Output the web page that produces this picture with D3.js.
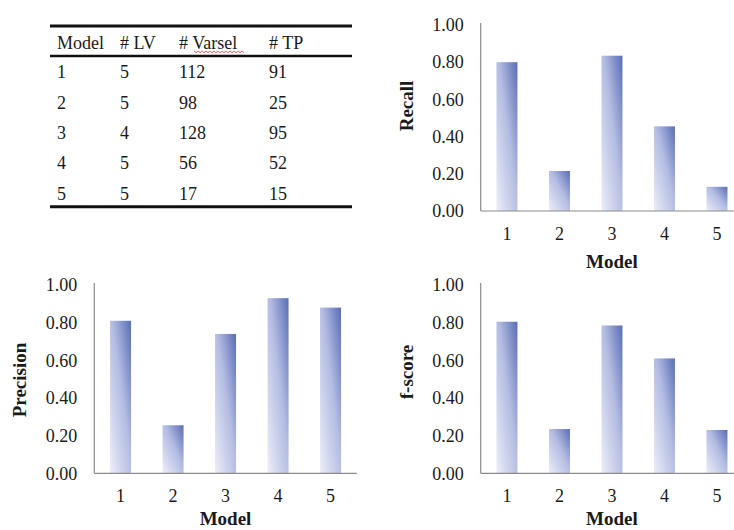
<!DOCTYPE html>
<html>
<head>
<meta charset="utf-8">
<script src="https://cdn.jsdelivr.net/npm/d3@7"></script>
<style>
  html, body { margin: 0; padding: 0; background: #fff; }
  svg { display: block; font-family: "Liberation Serif", "Times New Roman", serif; }
</style>
</head>
<body>
<svg id="fig" width="734" height="530"></svg>
<script>
// Model summary table
const models = ["1", "2", "3", "4", "5"];
const tableHeader = ["Model", "# LV", "# Varsel", "# TP"];
const numLV = [5, 5, 4, 5, 5];
const numVarsel = [112, 98, 128, 56, 17];
const numTP = [91, 25, 95, 52, 15];

// Scores per model
const recall = [0.80, 0.215, 0.835, 0.455, 0.13];
const precision = [0.81, 0.255, 0.74, 0.93, 0.88];
const fscore = [0.805, 0.235, 0.785, 0.61, 0.23];

const yTicks = [0, 0.2, 0.4, 0.6, 0.8, 1.0];

const svg = d3.select("#fig");
const textColor = "#1a1a1a";
const axisColor = "#8c8c8c";

// Shared bar fill: pale lower-left to deep blue upper-right
const defs = svg.append("defs");
const grad = defs.append("linearGradient")
  .attr("id", "barFill")
  .attr("x1", 0).attr("y1", 1).attr("x2", 1).attr("y2", 0);
grad.append("stop").attr("offset", "0%").attr("stop-color", "#eceef8");
grad.append("stop").attr("offset", "55%").attr("stop-color", "#b3bce2");
grad.append("stop").attr("offset", "100%").attr("stop-color", "#5a6db5");

// ---- Table ----
const table = svg.append("g");
const colX = [57, 120, 179, 269];
const headerBase = 49;
const rowBase = [78, 108.5, 139, 169.3, 199.5];
const tableX0 = 50, tableX1 = 352;

[[26, 3], [56, 2.6], [206.7, 3]].forEach(([y, w]) => {
  table.append("line")
    .attr("x1", tableX0).attr("x2", tableX1)
    .attr("y1", y).attr("y2", y)
    .attr("stroke", "#111").attr("stroke-width", w);
});

tableHeader.forEach((h, i) => {
  table.append("text")
    .attr("x", colX[i]).attr("y", headerBase)
    .attr("font-size", 18).attr("fill", textColor)
    .text(h);
});

// spell-check squiggle beneath "Varsel"
const squiggle = d3.range(194, 245, 2).map((x, i) => [x, 51.5 + (i % 2 ? 1.2 : -0.6)]);
table.append("path")
  .attr("d", d3.line()(squiggle))
  .attr("fill", "none").attr("stroke", "#e04a4a").attr("stroke-width", 0.9);

models.forEach((m, r) => {
  const cells = [m, numLV[r], numVarsel[r], numTP[r]];
  cells.forEach((c, i) => {
    table.append("text")
      .attr("x", colX[i]).attr("y", rowBase[r])
      .attr("font-size", 18).attr("fill", textColor)
      .text(c);
  });
});

// ---- Bar panels ----
function panel(opts) {
  const { values, left, right, top, bottom, yLabel, yLabelCenter, xTitleGap } = opts;
  const g = svg.append("g");

  const x = d3.scaleBand().domain(models).range([left, right])
    .paddingInner(0.6).paddingOuter(0.3);
  const y = d3.scaleLinear().domain([0, 1]).range([bottom, top]);

  // bars
  g.selectAll("rect.bar").data(values).join("rect")
    .attr("class", "bar")
    .attr("x", (d, i) => x(models[i]))
    .attr("width", x.bandwidth())
    .attr("y", d => y(d))
    .attr("height", d => y(0) - y(d))
    .attr("fill", "url(#barFill)");

  // y axis
  const ya = g.append("g")
    .attr("transform", `translate(${left},0)`)
    .call(d3.axisLeft(y).tickValues(yTicks).tickFormat(d3.format(".2f"))
      .tickSize(0).tickPadding(17));
  ya.select(".domain").remove();
  ya.selectAll("text").attr("font-size", 18).attr("fill", textColor)
    .attr("font-family", "Liberation Serif, Times New Roman, serif");
  g.append("line")
    .attr("x1", left).attr("x2", left)
    .attr("y1", y(0)).attr("y2", y(1) - 2)
    .attr("stroke", axisColor).attr("stroke-width", 1.2);

  // x axis
  const xa = g.append("g")
    .attr("transform", `translate(0,${bottom})`)
    .call(d3.axisBottom(x).tickSize(0).tickPadding(16));
  xa.select(".domain").remove();
  xa.selectAll("text").attr("font-size", 18).attr("fill", textColor)
    .attr("font-family", "Liberation Serif, Times New Roman, serif");
  g.append("line")
    .attr("x1", left).attr("x2", right)
    .attr("y1", bottom).attr("y2", bottom)
    .attr("stroke", axisColor).attr("stroke-width", 1.2);

  // axis titles
  g.append("text")
    .attr("x", (left + right) / 2).attr("y", bottom + xTitleGap)
    .attr("text-anchor", "middle")
    .attr("font-size", 19).attr("font-weight", "bold").attr("fill", textColor)
    .text("Model");

  g.append("text")
    .attr("transform", `translate(${left - 68},${yLabelCenter}) rotate(-90)`)
    .attr("text-anchor", "middle")
    .attr("font-size", 19).attr("font-weight", "bold").attr("fill", textColor)
    .text(yLabel);
}

panel({ values: recall, left: 480.7, right: 743.2, top: 25, bottom: 211,
        yLabel: "Recall", yLabelCenter: 106, xTitleGap: 56.5 });
panel({ values: precision, left: 94.3, right: 356.8, top: 285, bottom: 473.3,
        yLabel: "Precision", yLabelCenter: 380, xTitleGap: 52 });
panel({ values: fscore, left: 480.7, right: 743.2, top: 285, bottom: 473.3,
        yLabel: "f-score", yLabelCenter: 372, xTitleGap: 52 });
</script>
</body>
</html>
